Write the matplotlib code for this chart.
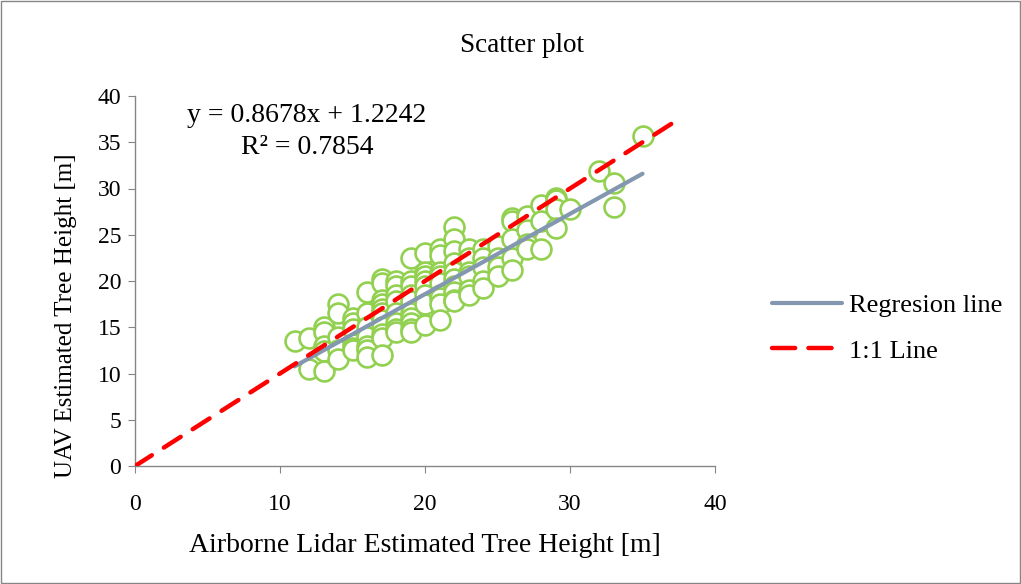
import matplotlib
matplotlib.use("Agg")
import matplotlib.pyplot as plt
from matplotlib.patches import Rectangle
import numpy as np

plt.rcParams['font.family'] = ['Liberation Serif', 'DejaVu Serif']

# Data
cols = {
    11: [13.5],
    12: [13.8, 10.5],
    13: [15.0, 14.5, 13.0, 12.4, 10.3],
    14: [17.5, 16.5, 14.0, 12.5, 11.6],
    15: [16.0, 15.5, 14.8, 13.2, 12.8, 12.5],
    16: [18.8, 16.5, 15.0, 14.0, 13.0, 12.5, 11.8],
    17: [20.2, 19.8, 18.0, 17.5, 17.0, 16.5, 15.8, 15.0, 14.3, 13.8, 12.0],
    18: [20.0, 19.5, 18.5, 17.8, 16.5, 15.5, 14.8, 14.5],
    19: [22.5, 20.0, 19.5, 18.5, 17.8, 16.5, 16.0, 15.5, 14.8, 14.5],
    20: [23.0, 21.0, 20.5, 20.0, 19.5, 18.5, 17.5, 15.2],
    21: [23.5, 22.8, 21.0, 20.5, 19.8, 18.5, 18.2, 17.5, 15.8],
    22: [25.8, 24.5, 23.2, 22.0, 21.0, 20.2, 19.5, 18.8, 18.0, 17.8],
    23: [23.5, 22.5, 21.0, 20.5, 19.0, 18.5],
    24: [23.5, 22.5, 21.5, 20.0, 19.2],
    25: [23.8, 22.5, 21.5, 20.5],
    26: [26.8, 26.5, 24.5, 22.5, 21.2],
    27: [27.0, 25.5, 24.0, 23.5],
    28: [28.2, 26.5, 23.5],
    29: [29.0, 28.8, 27.8, 25.7],
    30: [27.8],
    32: [31.9],
    33: [30.6, 28.0],
    35: [35.7],
}
lidar_x = [x for x, ys in cols.items() for _ in ys]
uav_y = [y for ys in cols.values() for y in ys]

slope = 0.8678
intercept = 1.2242
r2 = 0.7854
one_to_one_max = 37
x_ticks = [0, 10, 20, 30, 40]
y_ticks = [0, 5, 10, 15, 20, 25, 30, 35, 40]

fig = plt.figure(figsize=(10.21, 5.84), dpi=100)
ax = fig.add_axes([135/1021, 118/584, 580/1021, 370/584])

ax.scatter(lidar_x, uav_y, s=205, facecolors='white', edgecolors='#92D050',
           linewidths=1.9, zorder=2)

xr = np.array([min(lidar_x), max(lidar_x)])
ax.plot(xr, slope*xr + intercept, color='#8497B0', lw=3.0,
        solid_capstyle='round', label='Regresion line', zorder=3)
ax.plot([0, one_to_one_max], [0, one_to_one_max], color='#FF0000', lw=3.2,
        dashes=(4.5, 3.2), dash_capstyle='round', label='1:1 Line', zorder=4)

ax.set_xlim(0, 40)
ax.set_ylim(0, 40)
ax.set_xticks(x_ticks)
ax.set_yticks(y_ticks)
ax.tick_params(labelsize=17, length=5, color='#868686', direction='out')
ax.tick_params(axis='x', pad=15)
ax.tick_params(axis='y', pad=5)
for s in ['top', 'right']:
    ax.spines[s].set_visible(False)
for s in ['left', 'bottom']:
    ax.spines[s].set_color('#868686')
    ax.spines[s].set_linewidth(1.0)

fig.text(425/1021, 1-545/584, 'Airborne Lidar Estimated Tree Height [m]',
         ha='center', va='center', fontsize=20)
fig.text(66/1021, 1-316/584, 'UAV Estimated Tree Height [m]', ha='center',
         va='center', rotation=90, fontsize=18)

fig.text(522/1021, 1-45/584, 'Scatter plot', ha='center', va='center', fontsize=19.5)
fig.text(307/1021, 1-115/584, f'y = {slope}x + {intercept}', ha='center',
         va='center', fontsize=20)
fig.text(307/1021, 1-147/584, f'R² = {r2}', ha='center', va='center', fontsize=20)

leg = fig.legend(loc='center left', bbox_to_anchor=(772/1021, 1-328/584),
                 frameon=False, fontsize=19, handlelength=2.65, labelspacing=0.85,
                 handletextpad=0.25, borderpad=0, borderaxespad=0)
leg.get_lines()[1].set_dashes((5.2, 3.0))

fig.add_artist(Rectangle((0.001, 0.001), 0.998, 0.997, transform=fig.transFigure,
                         fill=False, edgecolor='#868686', lw=1.0))

fig.savefig('out.png', dpi=100)
